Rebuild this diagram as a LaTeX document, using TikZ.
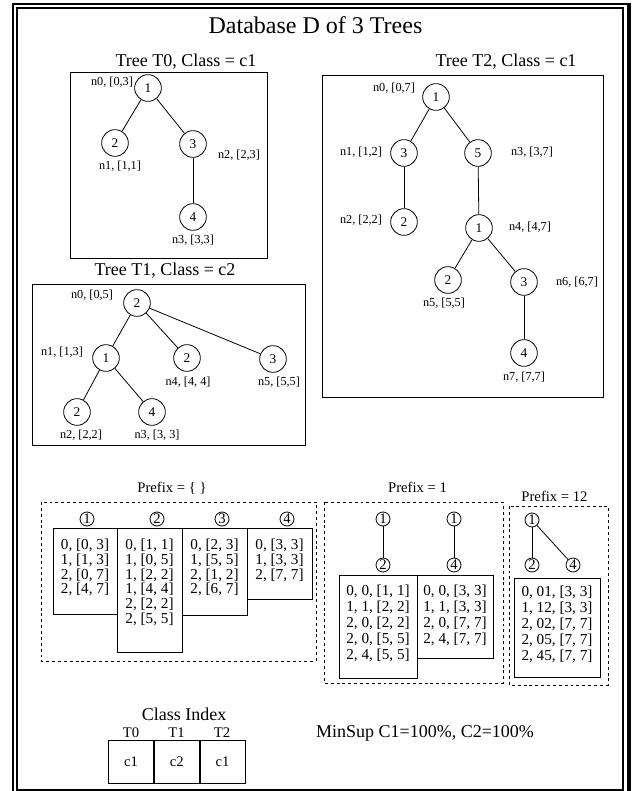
\documentclass[tikz,border=0pt]{standalone}
\usepackage{fontspec}
\setmainfont{Liberation Serif}
\usepackage{tikz}
\usetikzlibrary{positioning}

\begin{document}
\begin{tikzpicture}[x=0.75pt,y=-0.75pt,
  vert/.style={circle,draw,line width=0.6pt,minimum size=20pt,inner sep=0pt,font=\fontsize{10}{12}\selectfont},
  sv/.style={circle,draw,line width=0.6pt,minimum size=10.5pt,inner sep=0pt,font=\fontsize{11}{11}\selectfont},
  lbl/.style={inner sep=0pt,font=\fontsize{9.2}{11}\selectfont},
  ttl/.style={inner sep=0pt,font=\fontsize{13.5}{15}\selectfont},
  pfx/.style={inner sep=0pt,font=\fontsize{11}{13}\selectfont},
  rows/.style={align=center,anchor=north,inner sep=0pt,font=\fontsize{11.4}{11}\selectfont},
  rowsb/.style={rows,font=\fontsize{11.4}{11.85}\selectfont},
  edge/.style={line width=0.6pt},
  tbox/.style={draw,line width=0.6pt},
  dbox/.style={draw,line width=0.6pt,dash pattern=on 2.2pt off 2.2pt},
  cls/.style={draw,line width=0.6pt,minimum width=33.75pt,minimum height=32.25pt,inner sep=0pt,font=\fontsize{11}{13}\selectfont}
]
\useasboundingbox (0,0) rectangle (634,791);
% frame
\draw[line width=1.5pt] (13,800) -- (13,4.5) -- (630,4.5);
\draw[line width=3pt] (628.7,3.4) -- (628.7,800);
\draw[line width=1.5pt] (16.5,8.3) rectangle (623,790);

\node[inner sep=0pt,font=\fontsize{18}{20}\selectfont] (title) at (315.5,25) {Database D of 3 Trees};

% tree T0
\node[ttl] (t0) at (186,62) {Tree T0, Class = c1};
\draw[tbox] (70,72) rectangle (267,258);
\node[vert] (a0) at (148,88) {1};
\node[vert] (a1) at (115,143) {2};
\node[vert] (a2) at (193,144) {3};
\node[vert] (a3) at (193,217) {4};
\draw[edge] (a0) -- (a1);
\draw[edge] (a0) -- (a2);
\draw[edge] (a2) -- (a3);
\node[lbl] (a0l) at (112,82) {n0, [0,3]};
\node[lbl] (a1l) at (120,166) {n1, [1,1]};
\node[lbl] (a2l) at (239,155) {n2, [2,3]};
\node[lbl] (a3l) at (193,240) {n3, [3,3]};

% tree T1
\node[ttl] (t1) at (165,271) {Tree T1, Class = c2};
\draw[tbox] (32,284) rectangle (305,445);
\node[vert] (b0) at (137,303) {2};
\node[vert] (b1) at (106,358) {1};
\node[vert] (b4) at (187,358) {2};
\node[vert] (b5) at (273,359) {3};
\node[vert] (b2) at (77,412) {2};
\node[vert] (b3) at (152,412) {4};
\draw[edge] (b0) -- (b1);
\draw[edge] (b0) -- (b4);
\draw[edge] (b0) -- (b5);
\draw[edge] (b1) -- (b2);
\draw[edge] (b1) -- (b3);
\node[lbl] (b0l) at (92,295) {n0, [0,5]};
\node[lbl] (b1l) at (62,352) {n1, [1,3]};
\node[lbl] (b4l) at (188,382) {n4, [4, 4]};
\node[lbl] (b5l) at (279,382) {n5, [5,5]};
\node[lbl] (b2l) at (81,435) {n2, [2,2]};
\node[lbl] (b3l) at (157,435) {n3, [3, 3]};

% tree T2
\node[ttl] (t2) at (506,62) {Tree T2, Class = c1};
\draw[tbox] (322,75) rectangle (603,397);
\node[vert] (c0) at (436,97) {1};
\node[vert] (c1) at (404,153) {3};
\node[vert] (c3) at (478,153) {5};
\node[vert] (c2) at (404,222) {2};
\node[vert] (c4) at (479,228) {1};
\node[vert] (c5) at (448,280) {2};
\node[vert] (c6) at (524,282) {3};
\node[vert] (c7) at (524,353) {4};
\draw[edge] (c0) -- (c1);
\draw[edge] (c0) -- (c3);
\draw[edge] (c1) -- (c2);
\draw[edge] (c3) -- (c4);
\draw[edge] (c4) -- (c5);
\draw[edge] (c4) -- (c6);
\draw[edge] (c6) -- (c7);
\node[lbl] (c0l) at (394,88) {n0, [0,7]};
\node[lbl] (c1l) at (361,152) {n1, [1,2]};
\node[lbl] (c3l) at (532,152) {n3, [3,7]};
\node[lbl] (c2l) at (361,220) {n2, [2,2]};
\node[lbl] (c4l) at (530,227) {n4, [4,7]};
\node[lbl] (c6l) at (577,282) {n6, [6,7]};
\node[lbl] (c5l) at (444,303) {n5, [5,5]};
\node[lbl] (c7l) at (524,377) {n7, [7,7]};

% prefix = {}
\node[pfx] (p0) at (172,488) {Prefix = \{ \}};
\draw[dbox] (41,502) rectangle (316,661);
\node[sv] (s1) at (87,519) {1};
\node[sv] (s2) at (157,519) {2};
\node[sv] (s3) at (222,519) {3};
\node[sv] (s4) at (287,519) {4};
\draw[tbox] (53,528) rectangle (117,614);
\draw[tbox] (117,528) rectangle (182,652);
\draw[tbox] (182,528) rectangle (247,615);
\draw[tbox] (247,528) rectangle (312,599);
\node[rows] (k1) at (85,539) {0, [0, 3]\\1, [1, 3]\\2, [0, 7]\\2, [4, 7]};
\node[rows] (k2) at (149.5,539) {0, [1, 1]\\1, [0, 5]\\1, [2, 2]\\1, [4, 4]\\2, [2, 2]\\2, [5, 5]};
\node[rows] (k3) at (214.5,539) {0, [2, 3]\\1, [5, 5]\\2, [1, 2]\\2, [6, 7]};
\node[rows] (k4) at (279.5,539) {0, [3, 3]\\1, [3, 3]\\2, [7, 7]};

% prefix = 1
\node[pfx] (p1) at (417.5,487) {Prefix = 1};
\draw[dbox] (324,502) rectangle (503,683);
\node[sv] (u1) at (383,519) {1};
\node[sv] (u2) at (383,565) {2};
\node[sv] (v1) at (454,519) {1};
\node[sv] (v4) at (454,565) {4};
\draw[edge] (u1) -- (u2);
\draw[edge] (v1) -- (v4);
\draw[tbox] (339,575) rectangle (417,678);
\draw[tbox] (417,575) rectangle (493,658);
\node[rowsb] (ka) at (378,585) {0, 0, [1, 1]\\1, 1, [2, 2]\\2, 0, [2, 2]\\2, 0, [5, 5]\\2, 4, [5, 5]};
\node[rowsb] (kb) at (455,585) {0, 0, [3, 3]\\1, 1, [3, 3]\\2, 0, [7, 7]\\2, 4, [7, 7]};

% prefix = 12
\node[pfx] (p12) at (554.5,496) {Prefix = 12};
\draw[dbox] (509,506) rectangle (608,685);
\node[sv] (w1) at (532,520) {1};
\node[sv] (w2) at (532,565) {2};
\node[sv] (w4) at (573,565) {4};
\draw[edge] (w1) -- (w2);
\draw[edge] (w1) -- (w4);
\draw[tbox] (514,578) rectangle (600,677);
\node[rowsb] (kc) at (557,586) {0, 01, [3, 3]\\1, 12, [3, 3]\\2, 02, [7, 7]\\2, 05, [7, 7]\\2, 45, [7, 7]};

% class index
\node[ttl] (ci) at (184,714) {Class Index};
\node[pfx] (ct0) at (131,733) {T0};
\node[pfx] (ct1) at (176.5,733) {T1};
\node[pfx] (ct2) at (222,733) {T2};
\node[cls] (cc0) at (131,762) {c1};
\node[cls,right=0pt of cc0] (cc1) {c2};
\node[cls,right=0pt of cc1] (cc2) {c1};
\node[ttl] (ms) at (425,733) {MinSup C1=100\%, C2=100\%};
\end{tikzpicture}
\end{document}
